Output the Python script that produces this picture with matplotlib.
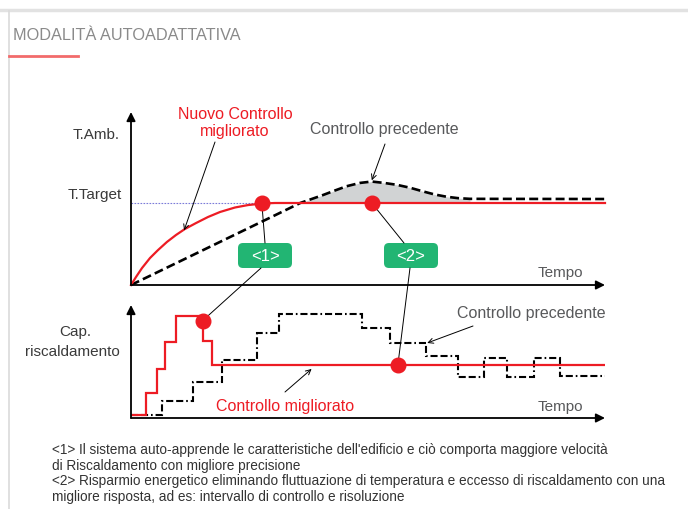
import matplotlib.pyplot as plt
from matplotlib.patches import FancyBboxPatch, ConnectionPatch
import numpy as np

plt.rcParams['font.family'] = ['Liberation Sans', 'DejaVu Sans']

# --- dati (tempo 0-100, livelli 0-100) ---
# grafico alto: temperatura ambiente
t_nuovo = [0, 1.05, 2.32, 4.01, 5.70, 7.59, 9.49, 11.39, 13.71, 16.24, 18.78,
           21.94, 24.68, 27.64, 30.38, 100]
temp_nuovo = [0, 4.6, 9.8, 15.6, 20.2, 24.9, 28.9, 32.4, 35.8, 39.3, 42.2,
              44.8, 46.2, 47.1, 47.4, 47.4]
t_prec = [0, 30, 35.7, 40.5, 43.0, 45.5, 48.3, 50.8, 53.4, 56.1, 58.9, 61.6,
          64.1, 66.6, 69.0, 71.5, 100]
temp_prec = [0, 39.8, 47.4, 52.0, 54.6, 57.1, 59.0, 59.8, 59.0, 57.9, 56.2, 54.1,
             52.3, 51.0, 50.2, 49.8, 49.7]
temp_target = 47.4
punti_top_t = [27.6, 50.8]

# grafico basso: capacità di riscaldamento (gradini)
bordi_migliorato = [0, 3.1, 5.4, 7.2, 9.4, 15.1, 17.0, 100]
cap_migliorato = [2.7, 22.1, 43.4, 67, 90, 68.4, 46.9]
bordi_prec = [0, 6.5, 13.1, 19.2, 26.6, 31.2, 48.7, 54.6, 62.2, 69.0, 74.5, 79.3, 85.0, 90.5, 100]
cap_prec = [2.7, 15.3, 31.6, 51.6, 75.2, 92.0, 79.6, 66.4, 54.9, 36.3, 53.1, 36.3, 53.1, 37.2]
punti_bot = [(15.1, 86.1), (56.3, 46.9)]

note = [
    "<1> Il sistema auto-apprende le caratteristiche dell'edificio e ciò comporta maggiore velocità",
    "di Riscaldamento con migliore precisione",
    "<2> Risparmio energetico eliminando fluttuazione di temperatura e eccesso di riscaldamento con una",
    "migliore risposta, ad es: intervallo di controllo e risoluzione",
]

ROSSO = "#ed1c24"
VERDE = "#22b573"
GRIGIO = "#58595b"

fig = plt.figure(figsize=(6.88, 5.10), dpi=100)

# livello di sfondo in pixel
ax0 = fig.add_axes([0, 0, 1, 1])
ax0.set_xlim(0, 688)
ax0.set_ylim(510, 0)
ax0.set_axis_off()
ax0.set_zorder(0)

ax1 = fig.add_axes([131 / 688, 1 - 286 / 510, 474 / 688, 173 / 510])
ax2 = fig.add_axes([131 / 688, 1 - 419 / 510, 474 / 688, 113 / 510])
for ax in (ax1, ax2):
    ax.set_xlim(0, 100)
    ax.set_ylim(0, 100)
    ax.set_axis_off()
    ax.set_zorder(1)
    ax.patch.set_alpha(0)
    ax.annotate('', xy=(1, 0), xytext=(0, 0), xycoords='axes fraction',
                arrowprops=dict(arrowstyle='-|>', color='k', lw=1.3,
                                mutation_scale=13, shrinkA=0, shrinkB=0))
    ax.annotate('', xy=(0, 1), xytext=(0, 0), xycoords='axes fraction',
                arrowprops=dict(arrowstyle='-|>', color='k', lw=1.3,
                                mutation_scale=13, shrinkA=0, shrinkB=0))

# cornice e titolo
ax0.plot([0, 688], [11, 11], color="#e2e2e2", lw=2.5)
ax0.plot([9, 9], [12, 510], color="#dadada", lw=1.2)
ax0.text(13, 35, "MODALITÀ AUTOADATTATIVA", fontsize=11.7, color="#8a8a8a", va='center')
ax0.plot([9, 78], [57, 57], color="#f26b6b", lw=2)

# --- grafico alto ---
ax1.plot([0, 27], [temp_target, temp_target], color="#7b7bd8", lw=0.8, ls=(0, (1.5, 1.2)))
tp = np.array(t_prec)
yp = np.array(temp_prec)
ax1.fill_between(tp, yp, temp_target, where=(yp >= temp_target) & (tp <= 72),
                 color="#d1d3d4", lw=0)
ax1.plot(t_prec, temp_prec, color='k', lw=1.9, ls=(0, (3.4, 1.6)), clip_on=False)
ax1.plot(t_nuovo, temp_nuovo, color=ROSSO, lw=1.6, clip_on=False)
ax1.plot(punti_top_t, [temp_target] * 2, 'o', color=ROSSO, ms=10.5, clip_on=False)

ax0.text(96, 135, "T.Amb.", fontsize=11, color="#3a3a3a", ha='center', va='center')
ax0.text(95, 195, "T.Target", fontsize=11, color="#3a3a3a", ha='center', va='center')
ax0.text(235, 123, "Nuovo Controllo\nmigliorato", fontsize=11.5, color=ROSSO,
         ha='center', va='center', linespacing=1.15)
ax0.text(384, 130, "Controllo precedente", fontsize=11.5, color=GRIGIO, ha='center', va='center')
ax0.text(560, 273, "Tempo", fontsize=11, color=GRIGIO, ha='center', va='center')

freccia = dict(arrowstyle='->', color='k', lw=0.7, mutation_scale=9, shrinkA=0, shrinkB=0)
ax1.annotate('', xy=(11.2, 31.6), xytext=(215, 143), textcoords=ax0.transData,
             arrowprops=freccia)
ax1.annotate('', xy=(50.8, 60.5), xytext=(385, 145), textcoords=ax0.transData,
             arrowprops=freccia)

# --- grafico basso ---
ax2.stairs(cap_prec, bordi_prec, baseline=None, color='k', lw=1.5,
           ls=(0, (3.4, 1.4, 3.4, 1.4, 0.8, 1.4)), clip_on=False)
ax2.stairs(cap_migliorato, bordi_migliorato, baseline=None, color=ROSSO, lw=1.6, clip_on=False)
ax2.plot([p[0] for p in punti_bot], [p[1] for p in punti_bot], 'o', color=ROSSO,
         ms=10.5, clip_on=False)

ax0.text(75, 332, "Cap.", fontsize=11, color="#3a3a3a", ha='center', va='center')
ax0.text(72, 352, "riscaldamento", fontsize=11, color="#3a3a3a", ha='center', va='center')
ax0.text(531, 314, "Controllo precedente", fontsize=11.5, color=GRIGIO, ha='center', va='center')
ax0.text(285, 407, "Controllo migliorato", fontsize=11.5, color=ROSSO, ha='center', va='center')
ax0.text(560, 407, "Tempo", fontsize=11, color=GRIGIO, ha='center', va='center')

ax2.annotate('', xy=(62.5, 66.4), xytext=(473, 327), textcoords=ax0.transData,
             arrowprops=freccia)
ax2.annotate('', xy=(38.1, 43.4), xytext=(285, 393), textcoords=ax0.transData,
             arrowprops=freccia)

# --- etichette <1> <2> e collegamenti ---
for cx, testo in [(265, "<1>"), (411, "<2>")]:
    box = FancyBboxPatch((cx - 27, 244), 54, 25, boxstyle='round,pad=0,rounding_size=5',
                         fc=VERDE, ec='none')
    ax0.add_patch(box)
    ax0.text(cx, 256.5, testo, fontsize=12, color='white', ha='center', va='center')

linea = dict(color='k', lw=0.7)
ax0.add_artist(ConnectionPatch(xyA=(punti_top_t[0], temp_target), coordsA=ax1.transData,
                               xyB=(265, 244), coordsB=ax0.transData, **linea))
ax0.add_artist(ConnectionPatch(xyA=(261, 269), coordsA=ax0.transData,
                               xyB=punti_bot[0], coordsB=ax2.transData, **linea))
ax0.add_artist(ConnectionPatch(xyA=(punti_top_t[1], temp_target), coordsA=ax1.transData,
                               xyB=(404, 244), coordsB=ax0.transData, **linea))
ax0.add_artist(ConnectionPatch(xyA=(410, 269), coordsA=ax0.transData,
                               xyB=punti_bot[1], coordsB=ax2.transData, **linea))

# note a piè di pagina
for i, riga in enumerate(note):
    ax0.text(52, 450 + i * 15.7, riga, fontsize=9.8, color="#333333", va='center')

fig.savefig("out.png", dpi=100)
